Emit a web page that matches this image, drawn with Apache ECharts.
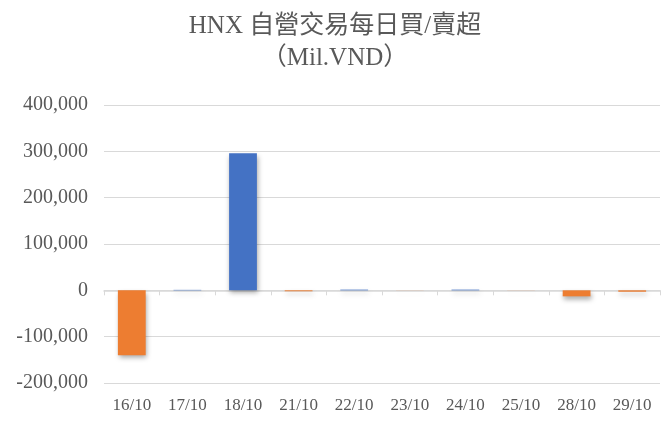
<!DOCTYPE html>
<html>
<head>
<meta charset="utf-8">
<script src="https://cdn.jsdelivr.net/npm/echarts@6/dist/echarts.min.js"></script>
<style>
  html, body { margin: 0; padding: 0; background: #fff; }
  #main { width: 670px; height: 421px; }
</style>
</head>
<body>
<div id="main"></div>
<script>
var categories = ['16/10', '17/10', '18/10', '21/10', '22/10', '23/10', '24/10', '25/10', '28/10', '29/10'];
var netValues = [-140000, 1000, 296000, -2000, 1500, -200, 1500, -200, -13000, -3000];
var yTicks = { min: -200000, max: 400000, interval: 100000 };

var myChart = echarts.init(document.getElementById('main'));
var fontLatin = '"Liberation Serif", "Noto Sans CJK TC", serif';

option = {
    backgroundColor: '#fff',
    title: {
        text: 'HNX 自營交易每日買/賣超\n（Mil.VND）',
        left: 'center',
        top: 5,
        textStyle: {
            fontFamily: fontLatin,
            fontSize: 25,
            fontWeight: 'normal',
            color: '#595959',
            lineHeight: 32
        }
    },
    grid: { left: 104, right: 10, top: 105, bottom: 38, outerBoundsMode: 'none', containLabel: false },
    xAxis: [{
        // zero line with ticks
        type: 'category',
        data: categories,
        axisLine: { onZero: true, lineStyle: { color: '#d9d9d9', width: 1.5 } },
        axisTick: { show: true, length: 5, lineStyle: { color: '#d9d9d9' } },
        axisLabel: { show: false }
    }, {
        // labels at the bottom
        type: 'category',
        data: categories,
        position: 'bottom',
        axisLine: { show: false, onZero: false },
        axisTick: { show: false },
        axisLabel: {
            color: '#595959',
            fontFamily: fontLatin,
            fontSize: 17,
            margin: 14
        }
    }],
    yAxis: {
        type: 'value',
        min: yTicks.min,
        max: yTicks.max,
        interval: yTicks.interval,
        axisLine: { show: false },
        axisTick: { show: false },
        splitLine: { lineStyle: { color: '#d9d9d9', width: 1 } },
        axisLabel: {
            color: '#595959',
            fontFamily: fontLatin,
            fontSize: 20,
            margin: 16,
            formatter: function (v) { return v.toLocaleString('en-US'); }
        }
    },
    series: [{
        type: 'bar',
        data: netValues,
        barWidth: '50%',
        itemStyle: {
            color: function (p) { return p.value >= 0 ? '#4472C4' : '#ED7D31'; },
            shadowColor: 'rgba(0,0,0,0.35)',
            shadowBlur: 5,
            shadowOffsetX: 1,
            shadowOffsetY: 3
        }
    }]
};

myChart.setOption(option);
</script>
</body>
</html>
